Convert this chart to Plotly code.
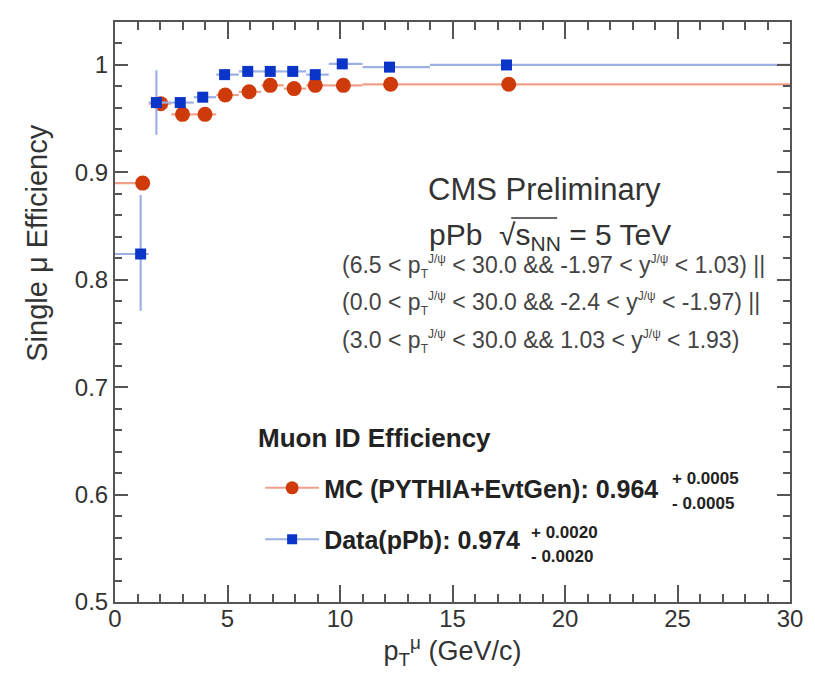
import plotly.graph_objects as go

# ---- data ----
bin_lo = [0.0, 1.5, 2.5, 3.5, 4.5, 5.5, 6.5, 7.5, 8.5, 9.5, 11.0, 14.0]
bin_hi = [1.5, 2.5, 3.5, 4.5, 5.5, 6.5, 7.5, 8.5, 9.5, 11.0, 14.0, 30.0]

mc_x = [1.23, 2.03, 3.0, 4.0, 4.9, 5.96, 6.9, 7.96, 8.9, 10.15, 12.25, 17.5]
mc_y = [0.890, 0.964, 0.954, 0.954, 0.972, 0.975, 0.981, 0.978, 0.981, 0.981, 0.982, 0.982]
mc_err = [0.004, 0.002, 0.002, 0.002, 0.002, 0.002, 0.002, 0.002, 0.002, 0.002, 0.002, 0.002]

data_x = [1.14, 1.84, 2.9, 3.9, 4.87, 5.9, 6.9, 7.9, 8.9, 10.1, 12.2, 17.4]
data_y = [0.824, 0.965, 0.965, 0.970, 0.991, 0.994, 0.994, 0.994, 0.991, 1.001, 0.998, 1.000]
data_err_hi = [0.055, 0.030, 0.003, 0.003, 0.003, 0.003, 0.003, 0.003, 0.003, 0.003, 0.003, 0.003]
data_err_lo = [0.053, 0.030, 0.003, 0.003, 0.003, 0.003, 0.003, 0.003, 0.003, 0.003, 0.003, 0.003]

y_tick_vals = [0.5, 0.6, 0.7, 0.8, 0.9, 1.0]
y_tick_text = ["0.5", "0.6", "0.7", "0.8", "0.9", "1"]

mc_label = "MC (PYTHIA+EvtGen): 0.964"
mc_unc = ("+ 0.0005", "- 0.0005")
data_label = "Data(pPb): 0.974"
data_unc = ("+ 0.0020", "- 0.0020")

JPSI = "<sup><span style='font-size:12px'>J/ψ</span></sup>"
PT = "p<sub><span style='font-size:12px'>T</span></sub>"
cut_lines = [
    f"(6.5 < {PT}{JPSI} < 30.0 && -1.97 < y{JPSI} < 1.03) ||",
    f"(0.0 < {PT}{JPSI} < 30.0 && -2.4 < y{JPSI} < -1.97) ||",
    f"(3.0 < {PT}{JPSI} < 30.0 && 1.03 < y{JPSI} < 1.93)",
]

RED = "#cf3a0a"
RED_L = "#f0a088"
BLUE = "#0a35c8"
BLUE_L = "#9cb0e4"
FONT = "Liberation Sans, Arial, sans-serif"

def xerr(xs):
    plus = [h - x for x, h in zip(xs, bin_hi)]
    minus = [x - l for x, l in zip(xs, bin_lo)]
    return plus, minus

fig = go.Figure()

p, m = xerr(mc_x)
fig.add_trace(go.Scatter(
    x=mc_x, y=mc_y, mode="markers", showlegend=False,
    marker=dict(symbol="circle", size=15, color=RED, line=dict(width=0)),
    error_x=dict(type="data", array=p, arrayminus=m, color=RED_L, thickness=2.2, width=0),
    error_y=dict(type="data", array=mc_err, color=RED_L, thickness=2.2, width=0),
))
p, m = xerr(data_x)
fig.add_trace(go.Scatter(
    x=data_x, y=data_y, mode="markers", showlegend=False,
    marker=dict(symbol="square", size=11, color=BLUE, line=dict(width=0)),
    error_x=dict(type="data", array=p, arrayminus=m, color=BLUE_L, thickness=2.2, width=0),
    error_y=dict(type="data", array=data_err_hi, arrayminus=data_err_lo, color=BLUE_L, thickness=2.2, width=0),
))

# legend entries
fig.add_trace(go.Scatter(
    x=[None], y=[None], mode="lines+markers", name=f"<b>{mc_label}</b>", legendgroup="mc",
    line=dict(color=RED_L, width=2), marker=dict(symbol="circle", size=13, color=RED)))
fig.add_trace(go.Scatter(
    x=[None], y=[None], mode="lines+markers", name=f"<b>{data_label}</b>", legendgroup="data",
    line=dict(color=BLUE_L, width=2), marker=dict(symbol="square", size=10, color=BLUE)))

axis_common = dict(
    showline=True, linecolor="#555555", linewidth=2, mirror="allticks",
    ticks="inside", tickcolor="#555555", tickwidth=1.5,
    showgrid=False, zeroline=False,
    tickfont=dict(family=FONT, size=24, color="#333333"),
)

fig.update_xaxes(
    range=[0, 30], dtick=5, tick0=0, ticklen=17, ticklabelstandoff=-6,
    minor=dict(dtick=1, ticklen=8, ticks="inside", tickcolor="#555555", tickwidth=1.5),
    title=dict(text="p<sub>T</sub><sup>μ</sup> (GeV/c)", font=dict(family=FONT, size=27, color="#333333"), standoff=4),
    **axis_common)
fig.update_yaxes(
    range=[0.5, 1.04], ticklen=13,
    tickvals=y_tick_vals, ticktext=y_tick_text,
    minor=dict(dtick=0.02, tick0=0.5, ticklen=7, ticks="inside", tickcolor="#555555", tickwidth=1.5),
    **axis_common)

ann = []
def A(text, x, y, size, xanchor="left", bold=False, color="#333333", angle=0):
    ann.append(dict(text=(f"<b>{text}</b>" if bold else text), x=x, y=y, xref="paper", yref="paper",
                    xanchor=xanchor, yanchor="middle", showarrow=False, textangle=angle,
                    font=dict(family=FONT, size=size, color=color)))

# y-axis title (placed like the reference, above the axis centre)
A("Single μ Efficiency", -0.115, 0.620, 29, xanchor="center", angle=-90)
A("CMS Preliminary", 0.636, 0.712, 31, xanchor="center")
A("pPb&nbsp;&nbsp;√s<sub>NN</sub> = 5 TeV", 0.645, 0.630, 30, xanchor="center")
for txt, yy in zip(cut_lines, [0.579, 0.514, 0.450]):
    A(txt, 0.333, yy, 23, color="#444444")
A("Muon ID Efficiency", 0.209, 0.2835, 26, bold=True, color="#222222")
A(mc_unc[0], 0.822, 0.213, 17, bold=True, color="#222222")
A(mc_unc[1], 0.822, 0.170, 17, bold=True, color="#222222")
A(data_unc[0], 0.614, 0.120, 17, bold=True, color="#222222")
A(data_unc[1], 0.614, 0.079, 17, bold=True, color="#222222")

fig.update_layout(
    width=807, height=673,
    margin=dict(l=107, r=15, t=12, b=79),
    paper_bgcolor="white", plot_bgcolor="white",
    annotations=ann,
    legend=dict(x=0.215, y=0.236, xanchor="left", yanchor="top", bgcolor="rgba(0,0,0,0)",
                font=dict(family=FONT, size=25, color="#222222"), tracegroupgap=16,
                itemwidth=54),
    shapes=[dict(type="line", xref="paper", yref="paper", x0=0.587, x1=0.655, y0=0.662, y1=0.662,
                 line=dict(color="#333333", width=1.5))],
)

fig.write_html("out.html")
